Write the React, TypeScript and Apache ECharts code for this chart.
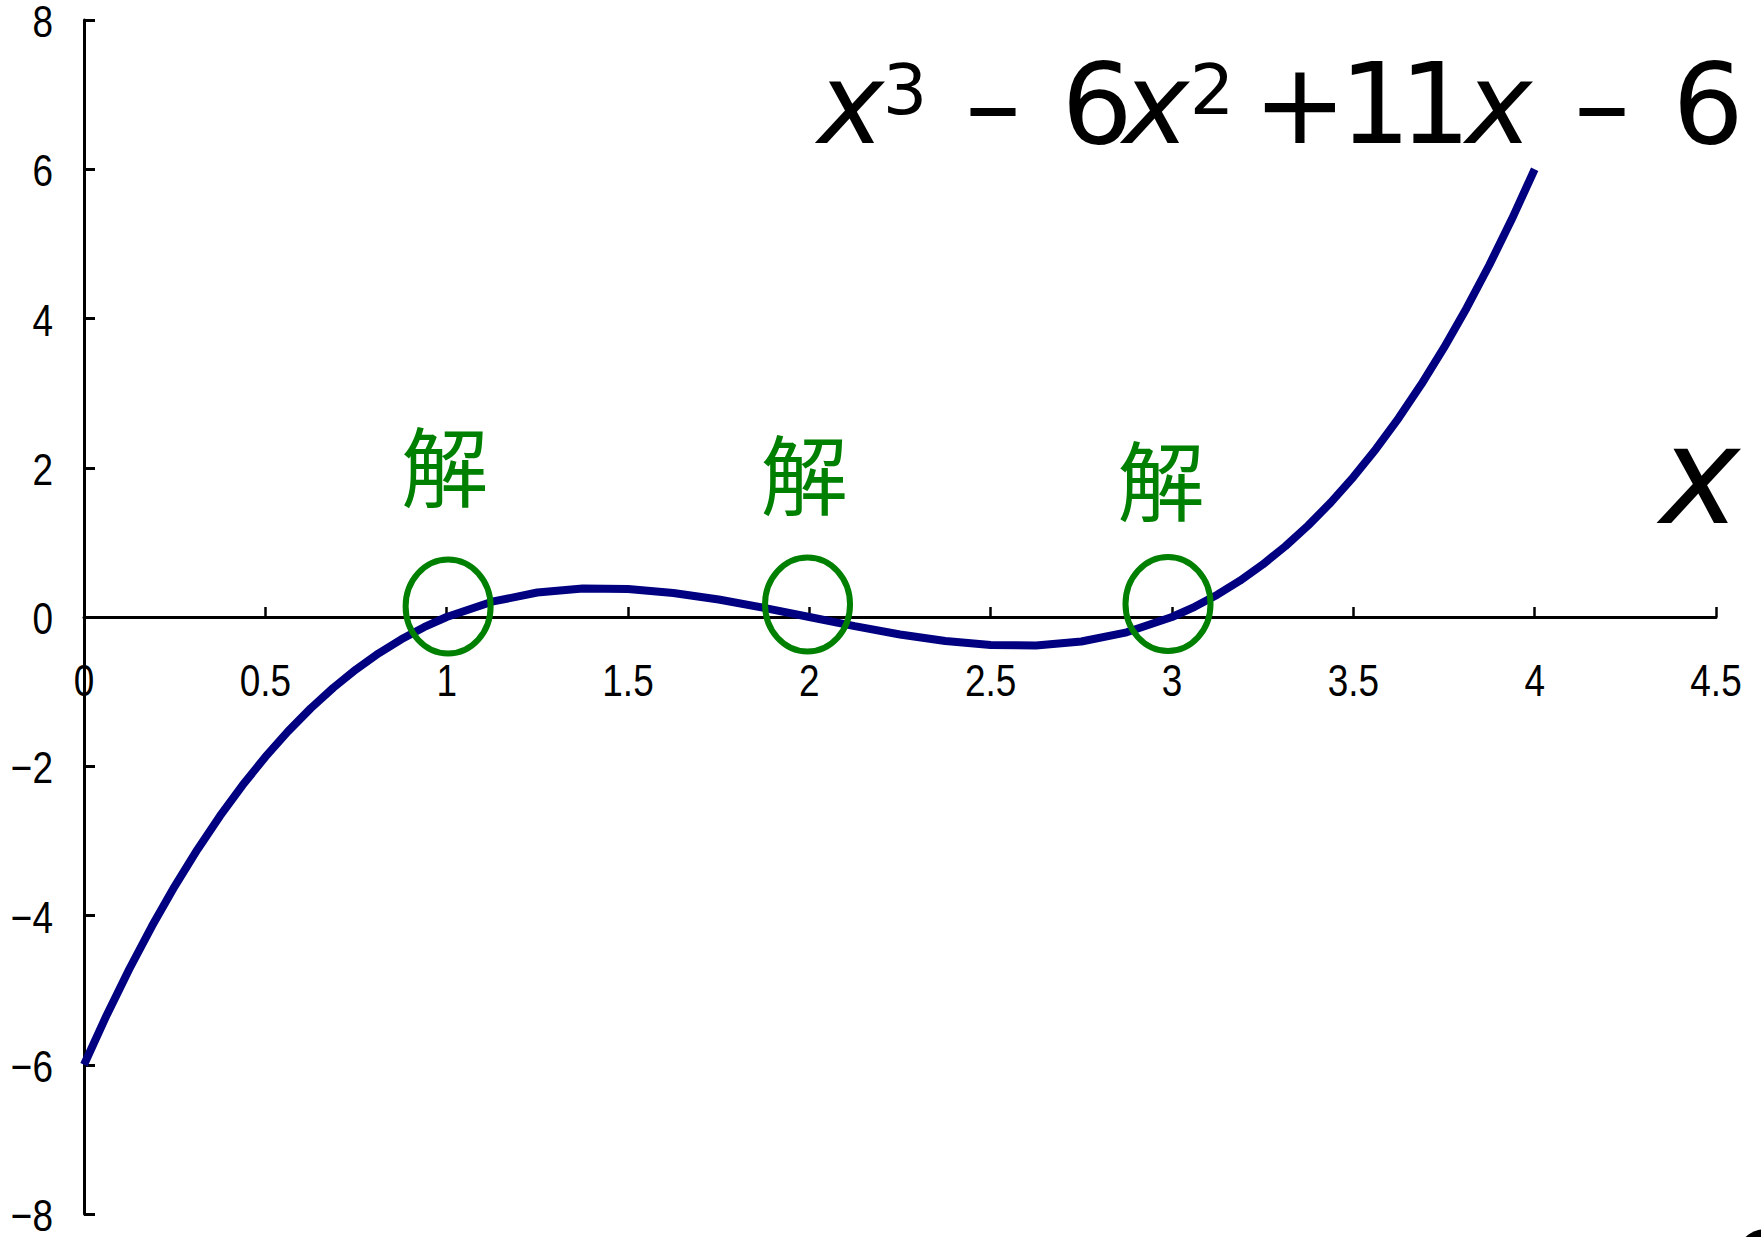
import React, { useEffect, useRef } from "react";
import * as echarts from "echarts";

// Curve samples (x, y)
const curveX = [
  0, 0.0625, 0.125, 0.1875, 0.25, 0.3125, 0.375, 0.4375, 0.5, 0.5625, 0.625, 0.6875, 0.75, 0.8125, 0.875, 0.9375,
  1, 1.125, 1.25, 1.375, 1.5, 1.625, 1.75, 1.875, 2, 2.125, 2.25, 2.375, 2.5, 2.625, 2.75, 2.875,
  3, 3.0625, 3.125, 3.1875, 3.25, 3.3125, 3.375, 3.4375, 3.5, 3.5625, 3.625, 3.6875, 3.75, 3.8125, 3.875, 3.9375, 4,
];
const curveY = [
  -6, -5.336, -4.717, -4.142, -3.609, -3.118, -2.666, -2.252, -1.875, -1.533, -1.225, -0.948, -0.703, -0.487, -0.299, -0.137,
  0, 0.205, 0.328, 0.381, 0.375, 0.322, 0.234, 0.123, 0, -0.123, -0.234, -0.322, -0.375, -0.381, -0.328, -0.205,
  0, 0.137, 0.299, 0.487, 0.703, 0.948, 1.225, 1.533, 1.875, 2.252, 2.666, 3.118, 3.609, 4.142, 4.717, 5.336, 6,
];

// Tick values and their labels
const xTickValues = [0, 0.5, 1, 1.5, 2, 2.5, 3, 3.5, 4, 4.5];
const xTickLabels = ["0", "0.5", "1", "1.5", "2", "2.5", "3", "3.5", "4", "4.5"];
const yTickValues = [-8, -6, -4, -2, 0, 2, 4, 6, 8];
const yTickLabels = ["\u22128", "\u22126", "\u22124", "\u22122", "0", "2", "4", "6", "8"];

// Root markers (ellipse centres) and their labels
const circleX = [1.004, 1.995, 2.989];
const circleY = [0.14, 0.168, 0.174];
const labelX = [0.995, 1.986, 2.97];
const labelY = [2.06, 1.96, 1.88];
const labelText = ["解", "解", "解"];

const AXIS_FONT = "'Liberation Sans', Arial, sans-serif";
const FORMULA_FONT = "'DejaVu Sans', Verdana, sans-serif";
const NARROW = 0.84;

export default function App() {
  const ref = useRef<HTMLDivElement>(null);

  useEffect(() => {
    if (!ref.current) return;
    const chart = echarts.init(ref.current, undefined, { renderer: "svg" });

    const big = 112;
    const sup = 70;
    const baseY = 104;
    const supY = 90;
    const mk = (text: string, x: number, y: number, size: number, italic = false) => ({
      type: "text",
      x,
      y,
      silent: true,
      style: {
        text,
        fontSize: size,
        fontFamily: FORMULA_FONT,
        fontStyle: italic ? "italic" : "normal",
        fill: "#000",
        align: "center",
        verticalAlign: "middle",
      },
    });

    const tickText = (text: string, x: number, y: number, align: string) => ({
      type: "text",
      x,
      y,
      scaleX: NARROW,
      silent: true,
      style: {
        text,
        fontSize: 44,
        fontFamily: AXIS_FONT,
        fill: "#000",
        align,
        verticalAlign: "middle",
      },
    });

    const option: any = {
      animation: false,
      backgroundColor: "#fff",
      grid: { left: 84, right: 45, top: 20, bottom: 23, containLabel: false, outerBoundsMode: "none" },
      xAxis: {
        type: "value",
        min: 0,
        max: 4.5,
        interval: 0.5,
        splitLine: { show: false },
        axisLine: { onZero: true, lineStyle: { color: "#000", width: 3 } },
        axisTick: { show: true, inside: true, length: 10, lineStyle: { color: "#000", width: 2.5 } },
        axisLabel: { show: false },
      },
      yAxis: {
        type: "value",
        min: -8,
        max: 8,
        interval: 2,
        splitLine: { show: false },
        axisLine: { onZero: false, lineStyle: { color: "#000", width: 3 } },
        axisTick: { show: true, inside: true, length: 11, lineStyle: { color: "#000", width: 3 } },
        axisLabel: { show: false },
      },
      series: [
        {
          type: "line",
          data: curveX.map((x, i) => [x, curveY[i]]),
          showSymbol: false,
          symbol: "none",
          lineStyle: { color: "#000080", width: 8 },
          z: 3,
        },
        {
          type: "custom",
          data: circleX.map((x, i) => [x, circleY[i]]),
          clip: false,
          z: 4,
          renderItem: (_p: any, api: any) => {
            const c = api.coord([api.value(0), api.value(1)]);
            return {
              type: "ellipse",
              shape: { cx: c[0], cy: c[1], rx: 42.5, ry: 47 },
              style: { fill: "none", stroke: "#008000", lineWidth: 6 },
            };
          },
        },
        {
          type: "custom",
          data: labelX.map((x, i) => [x, labelY[i], i]),
          clip: false,
          z: 4,
          renderItem: (_p: any, api: any) => {
            const c = api.coord([api.value(0), api.value(1)]);
            return {
              type: "text",
              x: c[0],
              y: c[1],
              style: {
                text: labelText[api.value(2)],
                fontSize: 87,
                fontFamily: "'Noto Sans CJK JP', 'Noto Sans CJK SC', sans-serif",
                fill: "#008000",
                align: "center",
                verticalAlign: "middle",
              },
            };
          },
        },
        {
          type: "custom",
          data: xTickValues.map((v, i) => [v, 0, i]),
          clip: false,
          z: 2,
          silent: true,
          renderItem: (_p: any, api: any) => {
            const c = api.coord([api.value(0), api.value(1)]);
            return tickText(xTickLabels[api.value(2)], c[0], c[1] + 64, "center");
          },
        },
        {
          type: "custom",
          data: yTickValues.map((v, i) => [0, v, i]),
          clip: false,
          z: 2,
          silent: true,
          renderItem: (_p: any, api: any) => {
            const c = api.coord([api.value(0), api.value(1)]);
            return tickText(yTickLabels[api.value(2)], c[0] - 31, c[1] + 2, "right");
          },
        },
      ],
      graphic: [
        mk("x", 851, baseY, big, true),
        mk("3", 905, supY, sup),
        mk("\u2013", 993, baseY, big),
        mk("6", 1097, baseY, big),
        mk("x", 1156, baseY, big, true),
        mk("2", 1212, supY, sup),
        mk("+", 1300, baseY, big),
        mk("1", 1375, baseY, big),
        mk("1", 1435, baseY, big),
        mk("x", 1499, baseY, big, true),
        mk("\u2013", 1602, baseY, big),
        mk("6", 1708, baseY, big),
        mk("x", 1700, 476, 135, true),
        { type: "circle", silent: true, shape: { cx: 1766, cy: 1259, r: 30 }, style: { fill: "#000" } },
      ],
    };

    chart.setOption(option);
    return () => chart.dispose();
  }, []);

  return (
    <div
      ref={ref}
      style={{ position: "absolute", left: 0, top: 0, width: 1761, height: 1237, background: "#fff" }}
    />
  );
}
